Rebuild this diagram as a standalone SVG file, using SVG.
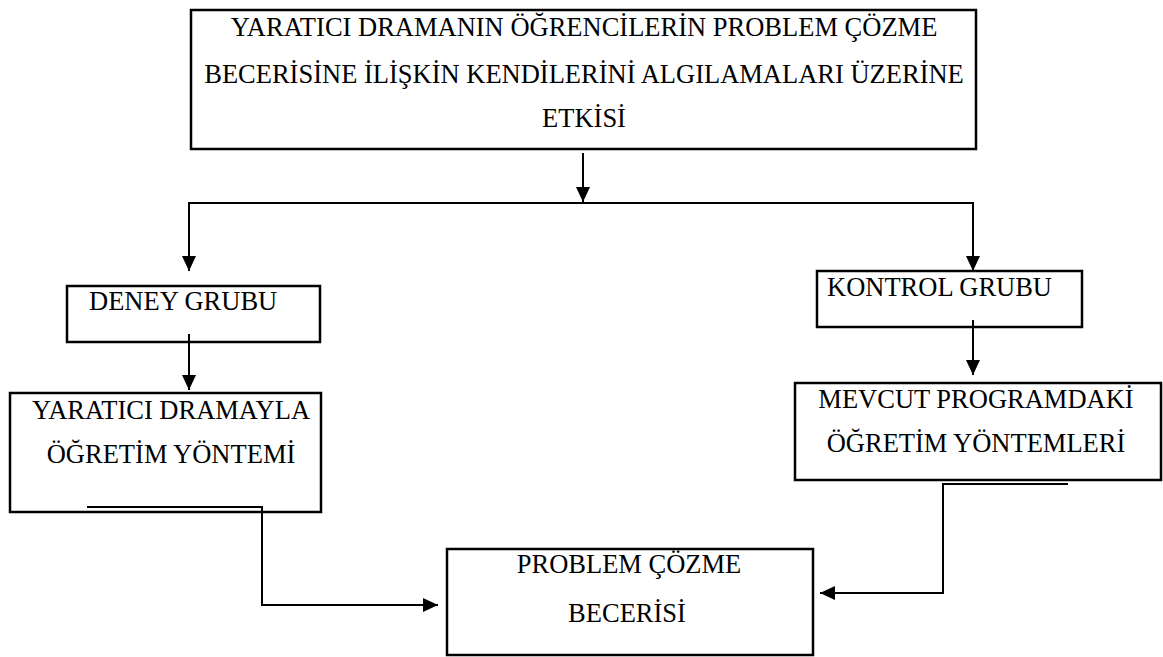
<svg xmlns="http://www.w3.org/2000/svg" width="1163" height="657" viewBox="0 0 1163 657">
<style>
.box{fill:#fff;stroke:#000;stroke-width:2.5}
.t{font-family:"Liberation Serif","Times New Roman",serif;font-size:26.5px;fill:#000}
.c{text-anchor:middle}
.ln{fill:none;stroke:#000;stroke-width:2}
</style>
<defs>
<marker id="ah" markerUnits="userSpaceOnUse" markerWidth="16" markerHeight="14" refX="15" refY="7" orient="auto">
<path d="M0,0 L15,7 L0,14 Z" fill="#000"/>
</marker>
</defs>
<rect width="1163" height="657" fill="#fff"/>
<g id="n-top">
<rect class="box" x="191" y="10" width="785" height="139"/>
<text class="t c" x="584" y="36">YARATICI DRAMANIN ÖĞRENCİLERİN PROBLEM ÇÖZME</text>
<text class="t c" x="584" y="83">BECERİSİNE İLİŞKİN KENDİLERİNİ ALGILAMALARI ÜZERİNE</text>
<text class="t c" x="584" y="127">ETKİSİ</text>
</g>
<g id="n-deney">
<rect class="box" x="67" y="286" width="253" height="56"/>
<text class="t" x="89" y="310">DENEY GRUBU</text>
</g>
<g id="n-kontrol">
<rect class="box" x="817" y="271" width="265" height="56"/>
<text class="t" x="827" y="296">KONTROL GRUBU</text>
</g>
<g id="n-yaratici">
<rect class="box" x="10" y="393" width="311" height="119"/>
<text class="t c" x="171" y="419">YARATICI DRAMAYLA</text>
<text class="t c" x="171" y="463">ÖĞRETİM YÖNTEMİ</text>
</g>
<g id="n-mevcut">
<rect class="box" x="795" y="383" width="366" height="97"/>
<text class="t c" x="976" y="408">MEVCUT PROGRAMDAKİ</text>
<text class="t c" x="976" y="452">ÖĞRETİM YÖNTEMLERİ</text>
</g>
<g id="n-problem">
<rect class="box" x="447" y="549" width="366" height="106"/>
<text class="t c" x="629" y="573">PROBLEM ÇÖZME</text>
<text class="t c" x="627" y="622">BECERİSİ</text>
</g>
<g id="connectors">
<line class="ln" x1="583" y1="153" x2="583" y2="202" marker-end="url(#ah)"/>
<line class="ln" x1="188" y1="203" x2="974" y2="203"/>
<line class="ln" x1="189" y1="203" x2="189" y2="271" marker-end="url(#ah)"/>
<line class="ln" x1="973" y1="203" x2="973" y2="271" marker-end="url(#ah)"/>
<line class="ln" x1="189" y1="334" x2="189" y2="390" marker-end="url(#ah)"/>
<line class="ln" x1="973" y1="320" x2="973" y2="375" marker-end="url(#ah)"/>
<polyline class="ln" points="87,507 262,507 262,605 438,605" marker-end="url(#ah)"/>
<polyline class="ln" points="1068,484 943,484 943,593 820,593" marker-end="url(#ah)"/>
</g>
</svg>
